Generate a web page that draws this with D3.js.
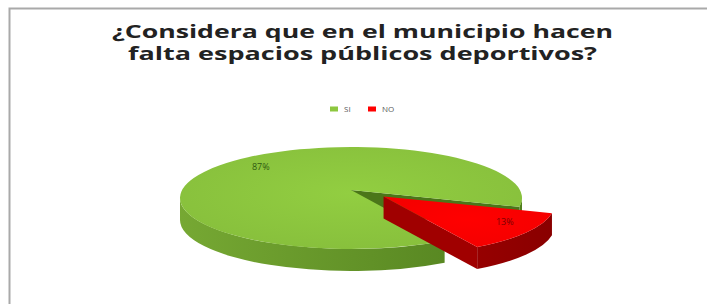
<!DOCTYPE html>
<html>
<head>
<meta charset="utf-8">
<script src="https://cdn.jsdelivr.net/npm/d3@7/dist/d3.min.js"></script>
<style>
  html, body { margin: 0; padding: 0; background: #fff; }
  svg { display: block; }
</style>
</head>
<body>
<svg id="chart" width="707" height="304"></svg>
<script>
// ---- data ----
const titleLines = ["¿Considera que en el municipio hacen", "falta espacios públicos deportivos?"];
const categories = ["SI", "NO"];
const values = [87, 13];
const valueLabels = ["87%", "13%"];

// ---- layout / style ----
const W = 707, H = 304;
const cx = 351, cy = 198, rx = 171, ry = 51, depth = 22, tipDy = -8;
const explodeIdx = 1, explodeDist = 39;
const topColors = ["#8DC73F", "#FF0000"];
const sideColorsA = ["#76a833", "#c80000"];
const sideColorsB = ["#4c7a1b", "#880000"];
const faceColors = ["#4b7619", "#a00000"];
const labelColors = ["#2f5a10", "#7a0000"];
const labelNudge = [[24, -9], [7, -5]];

const svg = d3.select("#chart");
svg.append("rect").attr("width", W).attr("height", H).attr("fill", "#fff");

// border
svg.append("path").attr("d", `M9.5,${H} L9.5,8.5 L${W},8.5`)
  .attr("fill", "none").attr("stroke", "#a9a9a9").attr("stroke-width", 2);

// title
const title = svg.append("g");
const titleSpecs = [{y: 38, x0: 112, x1: 613}, {y: 60, x0: 128, x1: 597}];
titleLines.forEach((t, i) => {
  const s = titleSpecs[i];
  title.append("text")
    .attr("x", s.x0).attr("y", s.y)
    .attr("textLength", s.x1 - s.x0).attr("lengthAdjust", "spacingAndGlyphs")
    .attr("font-family", "'Open Sans', Lato, sans-serif")
    .attr("font-weight", 700).attr("font-size", 17.5)
    .attr("fill", "#222")
    .text(t);
});

// legend
const legendX = d3.scalePoint().domain(categories).range([330, 368]);
const legend = svg.append("g");
categories.forEach((c, i) => {
  const x = legendX(c);
  legend.append("rect").attr("x", x).attr("y", 106.5).attr("width", 8).attr("height", 5)
    .attr("fill", topColors[i]);
  legend.append("text").attr("x", x + 14).attr("y", 112)
    .attr("font-family", "'Open Sans', Lato, sans-serif").attr("font-size", 8)
    .attr("fill", "#595959").text(c);
});

// gradients
const defs = svg.append("defs");
categories.forEach((c, i) => {
  const g = defs.append("linearGradient").attr("id", "side" + i)
    .attr("gradientUnits", "userSpaceOnUse")
    .attr("x1", cx - rx).attr("x2", cx + rx + 40).attr("y1", 0).attr("y2", 0);
  g.append("stop").attr("offset", "0%").attr("stop-color", sideColorsA[i]);
  g.append("stop").attr("offset", "100%").attr("stop-color", sideColorsB[i]);
  const t = defs.append("radialGradient").attr("id", "top" + i)
    .attr("cx", "50%").attr("cy", "45%").attr("r", "60%");
  t.append("stop").attr("offset", "0%").attr("stop-color", d3.color(topColors[i]).brighter(0.1));
  t.append("stop").attr("offset", "100%").attr("stop-color", d3.color(topColors[i]).darker(0.12));
});

// pie angles via d3.pie (0 = 12 o'clock, clockwise)
const startDeg = 146.8;
const pie = d3.pie().sort(null)
  .startAngle(startDeg * Math.PI / 180)
  .endAngle(startDeg * Math.PI / 180 + 2 * Math.PI);
const arcs = pie(values);

const pieG = svg.append("g");
arcs.forEach((a, i) => {
  const s = a.startAngle - Math.PI / 2;   // screen angle, clockwise from +x
  const e = a.endAngle - Math.PI / 2;
  const mid = (s + e) / 2;
  const ex = i === explodeIdx ? explodeDist * Math.cos(mid) : 0;
  const ey = i === explodeIdx ? explodeDist * Math.sin(mid) * ry / rx : 0;
  const pt = (ang, dz = 0) => [cx + ex + rx * Math.cos(ang), cy + ey + ry * Math.sin(ang) + dz];
  const tip = (dz = 0) => [cx + ex, cy + ey + tipDy + dz];
  const P = p => p[0].toFixed(2) + "," + p[1].toFixed(2);

  // end / start radial faces
  const face = ang => `M${P(tip())}L${P(pt(ang))}L${P(pt(ang, depth))}L${P(tip(depth))}Z`;
  if (Math.cos(e) > 0) pieG.append("path").attr("d", face(e)).attr("fill", faceColors[i]);
  if (Math.cos(s) < 0) pieG.append("path").attr("d", face(s)).attr("fill", faceColors[i]);

  // outer visible side segments (front half: screen angle 0..PI)
  for (let k = -1; k <= 2; k++) {
    const lo = Math.max(s, 2 * Math.PI * k), hi = Math.min(e, 2 * Math.PI * k + Math.PI);
    if (hi > lo) {
      const lg = (hi - lo) > Math.PI ? 1 : 0;
      const d = `M${P(pt(lo))}A${rx},${ry} 0 ${lg} 1 ${P(pt(hi))}` +
        `L${P(pt(hi, depth))}A${rx},${ry} 0 ${lg} 0 ${P(pt(lo, depth))}Z`;
      pieG.append("path").attr("d", d).attr("fill", `url(#side${i})`);
    }
  }

  // top face
  const lg = (e - s) > Math.PI ? 1 : 0;
  const top = `M${P(tip())}L${P(pt(s))}A${rx},${ry} 0 ${lg} 1 ${P(pt(e))}Z`;
  pieG.append("path").attr("d", top).attr("fill", `url(#top${i})`);

  // label
  const lr = 0.8;
  const lx = cx + ex + lr * rx * Math.cos(mid) + labelNudge[i][0];
  const ly = cy + ey + lr * ry * Math.sin(mid) + labelNudge[i][1];
  pieG.append("text").attr("x", lx).attr("y", ly + 3)
    .attr("text-anchor", "middle")
    .attr("font-family", "'Open Sans', Lato, sans-serif").attr("font-size", 9)
    .attr("fill", labelColors[i]).text(valueLabels[i]);
});
</script>
</body>
</html>
